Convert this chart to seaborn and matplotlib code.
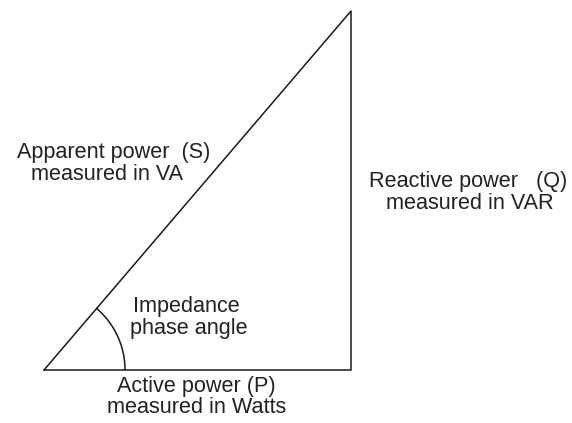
import numpy as np
import pandas as pd
import matplotlib
matplotlib.use("Agg")
import matplotlib.pyplot as plt
import seaborn as sns

# Power triangle (in pixel-like units of the drawing)
origin = (44, 370)
active_P = 307      # horizontal side length
reactive_Q = 359    # vertical side length
arc_radius = 81

label_S = ["Apparent power  (S)", "measured in VA"]
label_Q = ["Reactive power   (Q)", "measured in VAR"]
label_P = ["Active power (P)", "measured in Watts"]
label_angle = ["Impedance", "phase angle"]

sns.set_theme(style="white")
plt.rcParams['font.family'] = ['Liberation Sans', 'DejaVu Sans']

fig = plt.figure(figsize=(5.72, 4.23), dpi=100)
ax = fig.add_axes([0, 0, 1, 1])

x0, y0 = origin
tri = pd.DataFrame({
    "x": [x0, x0 + active_P, x0 + active_P, x0],
    "y": [y0, y0, y0 - reactive_Q, y0],
})
sns.lineplot(data=tri, x="x", y="y", sort=False, estimator=None,
             color="#1a1a1a", linewidth=1.1, ax=ax)

theta_end = np.arctan2(reactive_Q, active_P)
th = np.linspace(0, theta_end, 60)
arc = pd.DataFrame({"x": x0 + arc_radius * np.cos(th),
                    "y": y0 - arc_radius * np.sin(th)})
sns.lineplot(data=arc, x="x", y="y", sort=False, estimator=None,
             color="#1a1a1a", linewidth=1.1, ax=ax)

fs = 15.6
tc = "#222222"
kw = dict(fontsize=fs, color=tc, va="baseline")
ax.text(113.5, 158, label_S[0], ha="center", **kw)
ax.text(107, 180, label_S[1], ha="center", **kw)
ax.text(567, 187, label_Q[0], ha="right", **kw)
ax.text(554, 209, label_Q[1], ha="right", **kw)
ax.text(186.5, 312, label_angle[0], ha="center", **kw)
ax.text(188.5, 334, label_angle[1], ha="center", **kw)
ax.text(196.5, 392, label_P[0], ha="center", **kw)
ax.text(197, 413, label_P[1], ha="center", **kw)

ax.set_xlim(0, 572)
ax.set_ylim(423, 0)
ax.axis("off")
fig.savefig("out.png", dpi=100, facecolor="white")
